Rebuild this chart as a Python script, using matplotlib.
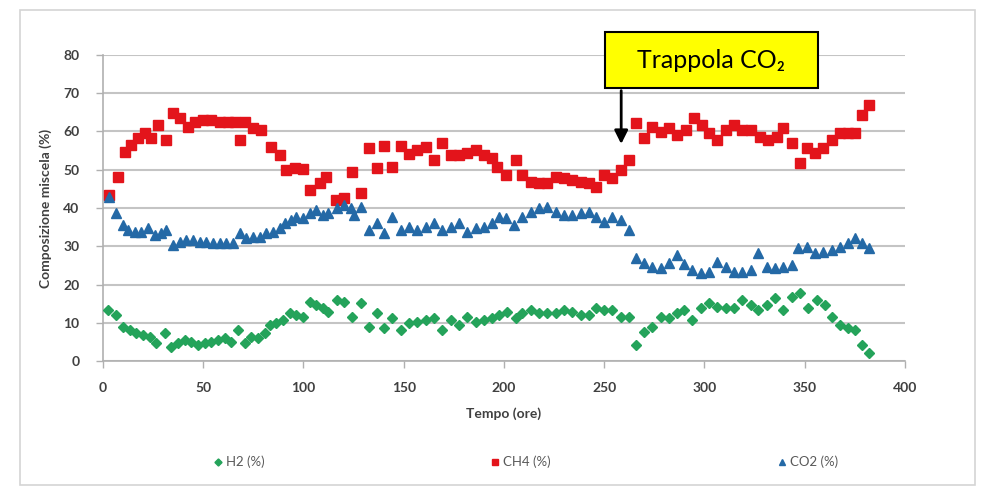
import matplotlib
matplotlib.use("Agg")
import matplotlib.pyplot as plt
from matplotlib.patches import Rectangle

plt.rcParams['font.family'] = ['Lato', 'DejaVu Sans']

# H2 (%)
t_h2 = [2.5, 6.5, 10, 13.5, 16.5, 20, 23.5, 26.5, 31, 34,
        37.5, 41, 44, 47.5, 51, 54, 57.5, 61, 64, 67.5,
        71, 74, 77.5, 81, 83.5, 86.5, 90, 93.5, 96.5,
        100, 103.5, 106.5, 110, 112.5, 116.5, 120, 124, 128.5, 132.5,
        136.5, 140, 144, 148.5, 152.5, 156.5, 161, 165, 169, 173.5,
        177.5, 181.5, 186, 190, 194,
        197.5, 201.5, 206, 209, 213.5, 217.5, 221.5, 226, 230, 234,
        238.5, 242.5, 246, 250, 254, 258.5, 262.5, 266, 270, 274,
        278.5, 282.5, 286.5, 290,
        294, 298.5, 302.5, 306.5, 311, 315, 319, 323.5, 326.5, 331,
        335, 339, 343.5, 347.5, 351.5, 356, 360, 363.5, 367.5, 371.5,
        375, 378.5, 382]
h2 = [13.3, 12, 8.9, 8.1, 7.3, 6.8, 6.3, 4.7, 7.3, 3.7,
      4.7, 5.5, 5, 4.2, 4.7, 5, 5.5, 6, 5, 8.1,
      4.7, 6.3, 6, 7.3, 9.4, 9.9, 10.7, 12.5, 12,
      11.5, 15.4, 14.6, 13.9, 12.8, 15.9, 15.4, 11.5, 15.2, 8.9,
      12.5, 8.6, 11.2, 8.1, 9.9, 10.2, 10.7, 11.2, 8.1, 10.7,
      9.4, 11.5, 10.2, 10.7, 11.2,
      12, 12.8, 11.2, 12.5, 13.3, 12.5, 12.5, 12.5, 13.3, 12.8,
      12, 12, 13.9, 13.3, 13.3, 11.5, 11.5, 4.2, 7.6, 8.9,
      11.5, 11.2, 12.5, 13.3,
      10.7, 13.9, 15.2, 14.1, 13.9, 13.9, 15.9, 14.6, 13.3, 14.6,
      16.5, 13.3, 16.7, 17.8, 13.9, 15.9, 14.6, 11.5, 9.4, 8.6,
      8.1, 4.2, 2.1]

# CH4 (%)
t_ch4 = [3, 7.5, 11, 14, 17.5, 21, 24, 27.5, 31.5, 35,
         38.5, 42.5, 46, 50, 54, 58.5, 62.5, 66, 68.5, 71,
         75, 79, 84, 88.5, 91.5, 96, 100, 103.5, 108.5, 111.5,
         116, 120, 124, 128.5, 132.5, 136.5, 140, 144, 148.5, 152.5,
         156.5, 161, 165, 169, 173.5, 177.5, 181.5, 186, 190, 194,
         196.5, 201, 206, 209, 213.5, 217.5, 221.5, 226, 230, 234,
         238.5, 242.5, 246, 250, 254, 258.5, 262.5, 266, 270, 274,
         278.5, 282.5, 286.5, 291, 295, 299, 302.5, 306.5, 311, 315,
         319, 323.5, 327.5, 331.5, 336, 339, 343.5, 347.5, 351, 355,
         359, 363.5, 367.5, 371.5, 375, 378.5, 382]
ch4 = [43.4, 48.1, 54.6, 56.5, 58.3, 59.6, 58.3, 61.7, 57.8, 64.8,
       63.5, 61.2, 62.5, 63, 63, 62.5, 62.5, 62.5, 57.8, 62.5,
       60.9, 60.4, 56, 53.9, 49.9, 50.4, 50.2, 44.7, 46.5, 48,
       42, 42.6, 49.4, 44, 55.7, 50.4, 56.2, 50.7, 56.2, 54,
       55.2, 56, 52.5, 57, 53.9, 53.9, 54.4, 55.2, 53.9, 53,
       50.8, 48.6, 52.5, 48.6, 46.8, 46.5, 46.5, 48, 47.8, 47.3,
       46.8, 46.5, 45.5, 48.6, 47.8, 49.9, 52.5, 62.2, 58.3, 61.2,
       59.9, 60.9, 59, 60.4, 63.5, 61.7, 59.6, 57.8, 60.4, 61.7,
       60.4, 60.4, 58.6, 57.8, 58.6, 60.9, 57, 51.8, 55.7, 54.4,
       55.7, 57.8, 59.6, 59.6, 59.6, 64.3, 67]

# CO2 (%)
t_co2 = [3, 6.5, 10, 12.5, 16, 19, 22.5, 26, 29, 31.5,
         35, 38.5, 41.5, 45, 48.5, 51.5, 55, 58.5, 61.5, 65,
         68.5, 71.5, 75, 78.5, 81.5, 85, 88.5, 91, 94, 96.5,
         100, 103.5, 106.5, 110, 112.5, 116.5, 120, 123.5, 125, 128.5,
         132.5, 136.5, 140, 144, 148.5, 152.5, 156.5, 161, 165, 169,
         173.5, 177.5, 181.5, 186, 190, 194, 197.5, 201, 205, 209,
         213.5, 217.5, 221.5, 226, 230, 234, 238.5, 242.5, 246, 250,
         254, 258.5, 262.5, 266, 270, 274, 278.5, 282.5, 286.5, 290,
         294, 298.5, 302.5, 306.5, 311, 315, 319, 323.5, 326.5, 331,
         335, 339, 343.5, 346.5, 351, 355, 359, 363.5, 367.5, 371.5,
         375, 378.5, 382]
co2 = [43, 38.7, 35.6, 34.2, 33.7, 33.7, 34.8, 32.9, 33.5, 34.2,
       30.3, 31.1, 31.6, 31.6, 31.1, 31.1, 30.8, 30.8, 30.8, 30.8,
       33.5, 32.2, 32.4, 32.4, 33.5, 33.7, 34.8, 36.1, 36.9, 37.6,
       37.4, 38.7, 39.5, 38.2, 38.7, 40, 40.8, 40, 38.2, 40.3,
       34.2, 36.1, 33.5, 37.6, 34.2, 35, 34.2, 35, 36.1, 34.2,
       35, 36.1, 33.7, 34.8, 35, 36.1, 37.6, 37.4, 35.6, 37.6,
       39, 40, 40.3, 39, 38.2, 38.2, 38.7, 39, 37.6, 36.3,
       37.6, 36.9, 34.2, 26.9, 25.6, 24.6, 24.3, 25.6, 27.7, 25.3,
       23.8, 23, 23.3, 25.9, 24.6, 23.3, 23.3, 23.8, 28.2, 24.6,
       24.3, 24.6, 25.1, 29.5, 29.8, 28.2, 28.5, 29, 29.8, 30.8,
       32.2, 30.8, 29.5]

x_ticks = [0, 50, 100, 150, 200, 250, 300, 350, 400]
y_ticks = [0, 10, 20, 30, 40, 50, 60, 70, 80]

fig = plt.figure(figsize=(9.9, 4.86), dpi=100)
ax = fig.add_axes([0.104, 0.257, 0.81, 0.63])

# outer chart frame
fig.patches.append(Rectangle((20 / 990, 0.002), 955 / 990, 1 - 10 / 486 - 0.002,
                             transform=fig.transFigure, fill=False,
                             edgecolor='#d4d4d4', lw=1.2))

ax.plot(t_ch4, ch4, 's', ms=6.5, color='#e3141b', label='CH4 (%)', zorder=3)
ax.plot(t_co2, co2, '^', ms=6.5, color='#2469a6', label='CO2 (%)', zorder=3)
ax.plot(t_h2, h2, 'D', ms=4.8, color='#24a35a', label='H2 (%)', zorder=3)

ax.set_xlim(0, 400)
ax.set_ylim(0, 80)
ax.set_xticks(x_ticks)
ax.set_yticks(y_ticks)
ax.yaxis.grid(True, color='#c4c4c4', lw=1.5)
ax.set_axisbelow(True)
for s in ['top', 'right']:
    ax.spines[s].set_visible(False)
for s in ['left', 'bottom']:
    ax.spines[s].set_color('#b0b0b0')
    ax.spines[s].set_linewidth(1.2)
ax.tick_params(axis='both', colors='#b0b0b0', labelcolor='#404040',
               labelsize=10, length=5, width=1)
ax.tick_params(axis='x', pad=10)
ax.tick_params(axis='y', pad=12)
for lab in ax.get_xticklabels() + ax.get_yticklabels():
    lab.set_fontweight('bold')

ax.set_xlabel('Tempo (ore)', fontsize=10, fontweight='bold', color='#404040', labelpad=10)
ax.set_ylabel('Composizione miscela (%)', fontsize=10, fontweight='bold', color='#404040', labelpad=8)

# legend order: H2, CH4, CO2
handles, labels = ax.get_legend_handles_labels()
order = [2, 0, 1]
fig.legend([handles[i] for i in order], [labels[i] for i in order],
           loc='center', bbox_to_anchor=(0.53, 1 - 462 / 486), ncol=3,
           frameon=False, fontsize=9.5, labelcolor='#595959',
           columnspacing=17, handletextpad=0.1, handlelength=1, markerscale=0.75)

# annotation box
fig.patches.append(Rectangle((605 / 990, 1 - 88 / 486), 213 / 990, 56 / 486,
                             transform=fig.transFigure, facecolor='#ffff00',
                             edgecolor='black', lw=1.5, zorder=5))
fig.text(711 / 990, 1 - 61 / 486, 'Trappola CO\u2082', ha='center', va='center',
         fontsize=18, color='black', zorder=6)
ax.annotate('', xy=(258.5, 56), xytext=(258.5, 71.4), annotation_clip=False,
            arrowprops=dict(arrowstyle='-|>', color='black', lw=2, mutation_scale=20))

fig.savefig('out.png', dpi=100)
